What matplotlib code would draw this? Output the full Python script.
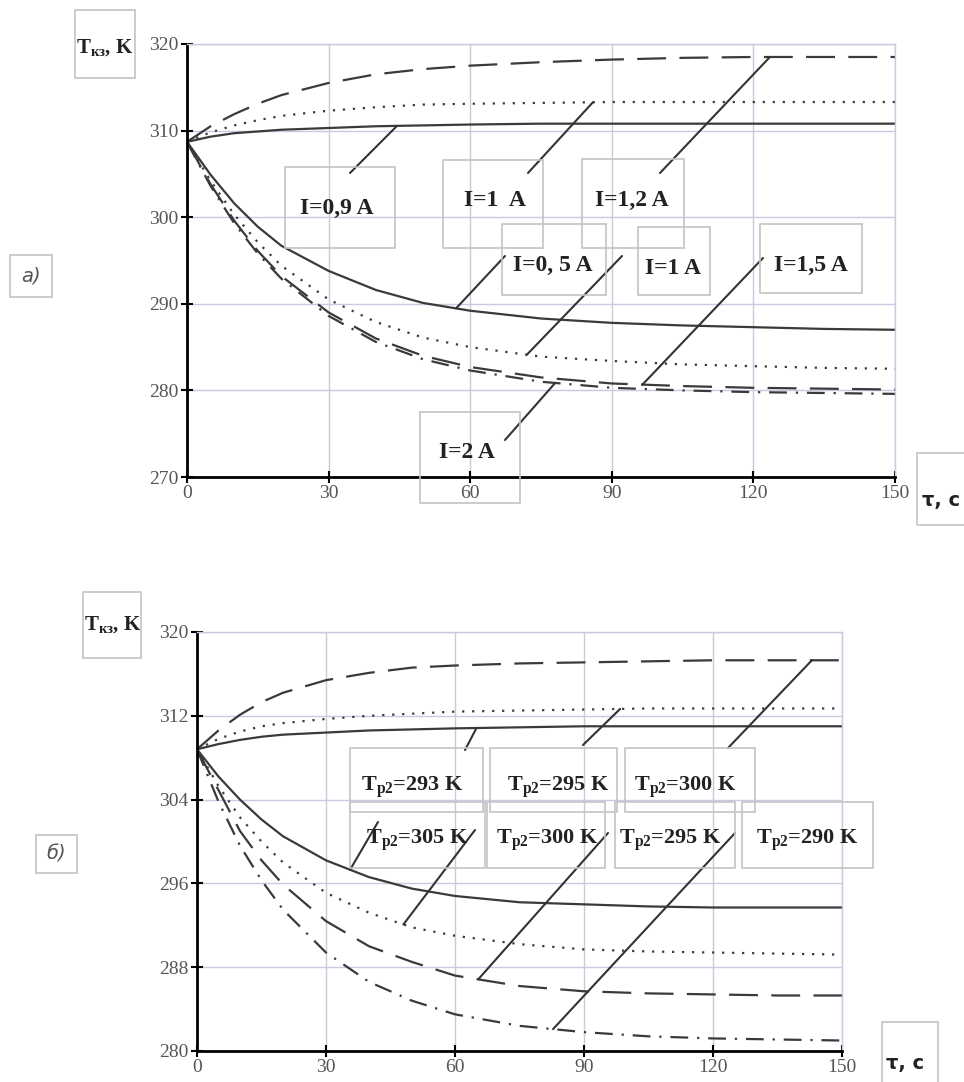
import numpy as np
import matplotlib
matplotlib.use("Agg")
import matplotlib.pyplot as plt
from matplotlib.patches import Rectangle

W, H = 964, 1082

plt.rcParams["font.family"] = ["Liberation Serif", "DejaVu Serif"]
plt.rcParams["mathtext.fontset"] = "custom"
plt.rcParams["mathtext.rm"] = "Liberation Serif:bold"
plt.rcParams["mathtext.it"] = "Liberation Serif:bold:italic"
plt.rcParams["mathtext.bf"] = "Liberation Serif:bold"

# time, s
tau = [0, 5, 10, 15, 20, 30, 40, 50, 60, 75, 90, 105, 120, 135, 150]

# panel a) upper branch (hot side) for I = 0.9, 1, 1.2 A
a_hot_09 = [308.7, 309.3, 309.7, 309.9, 310.1, 310.3, 310.5, 310.6, 310.7, 310.8, 310.8, 310.8, 310.8, 310.8, 310.8]
a_hot_10 = [308.7, 309.8, 310.6, 311.2, 311.7, 312.3, 312.7, 313.0, 313.1, 313.2, 313.3, 313.3, 313.3, 313.3, 313.3]
a_hot_12 = [308.7, 310.5, 311.9, 313.1, 314.1, 315.5, 316.5, 317.1, 317.5, 317.9, 318.2, 318.4, 318.5, 318.5, 318.5]
# panel a) lower branch (cold side) for I = 0.5, 1, 1.5, 2 A
a_cold_05 = [308.7, 304.9, 301.6, 298.9, 296.7, 293.8, 291.6, 290.1, 289.2, 288.3, 287.8, 287.5, 287.3, 287.1, 287.0]
a_cold_10 = [308.7, 304.2, 300.3, 297.1, 294.4, 290.5, 287.9, 286.1, 285.0, 283.9, 283.4, 283.0, 282.8, 282.6, 282.5]
a_cold_15 = [308.7, 303.8, 299.6, 296.1, 293.2, 289.0, 286.0, 284.0, 282.7, 281.5, 280.8, 280.5, 280.3, 280.2, 280.1]
a_cold_20 = [308.7, 303.6, 299.3, 295.8, 292.9, 288.6, 285.6, 283.6, 282.3, 281.0, 280.3, 280.0, 279.8, 279.7, 279.6]

# panel б) upper branch for Tp2 = 293, 295, 300 K
b_hot_293 = [308.8, 309.3, 309.7, 310.0, 310.2, 310.4, 310.6, 310.7, 310.8, 310.9, 311.0, 311.0, 311.0, 311.0, 311.0]
b_hot_295 = [308.8, 309.8, 310.5, 311.0, 311.3, 311.7, 312.0, 312.2, 312.4, 312.5, 312.6, 312.7, 312.7, 312.7, 312.7]
b_hot_300 = [308.8, 310.6, 312.1, 313.3, 314.2, 315.4, 316.1, 316.6, 316.8, 317.0, 317.1, 317.2, 317.3, 317.3, 317.3]
# panel б) lower branch for Tp2 = 305, 300, 295, 290 K
b_cold_305 = [308.8, 306.2, 304.0, 302.1, 300.5, 298.2, 296.6, 295.5, 294.8, 294.2, 294.0, 293.8, 293.7, 293.7, 293.7]
b_cold_300 = [308.8, 305.3, 302.3, 300.0, 298.0, 295.1, 293.2, 291.8, 291.0, 290.2, 289.7, 289.5, 289.4, 289.3, 289.2]
b_cold_295 = [308.8, 304.9, 301.0, 298.2, 295.9, 292.4, 290.0, 288.5, 287.2, 286.2, 285.7, 285.5, 285.4, 285.3, 285.3]
b_cold_290 = [308.8, 303.8, 299.6, 296.3, 293.5, 289.4, 286.6, 284.8, 283.5, 282.4, 281.8, 281.4, 281.2, 281.1, 281.0]

a_labels = ["I=0,9 A", "I=1  A", "I=1,2 A", "I=0, 5 A", "I=1 A", "I=1,5 A", "I=2 A"]
b_labels = [r"T$_{\mathrm{р2}}$=293 K", r"T$_{\mathrm{р2}}$=295 K", r"T$_{\mathrm{р2}}$=300 K",
            r"T$_{\mathrm{р2}}$=305 K", r"T$_{\mathrm{р2}}$=300 K", r"T$_{\mathrm{р2}}$=295 K",
            r"T$_{\mathrm{р2}}$=290 K"]

a_yticks = [270, 280, 290, 300, 310, 320]
b_yticks = [280, 288, 296, 304, 312, 320]
xticks = [0, 30, 60, 90, 120, 150]

GRID = "#c9c9df"
LINE = "#3a3a3a"
BOXC = "#c4c4c4"
SOLID = "-"
DOT = (0, (1, 3.5))
DASH = (0, (13, 6))
DASHDOT = (0, (8, 4, 1, 4))


def fxy(x, y):
    return x / W, 1 - y / H


def setup(ax, yticks):
    ax.set_xlim(0, 150)
    ax.set_ylim(yticks[0], yticks[-1])
    ax.set_xticks(xticks)
    ax.set_yticks(yticks)
    ax.grid(True, color=GRID, lw=1)
    ax.set_axisbelow(True)
    for s in ["top", "right"]:
        ax.spines[s].set_color(GRID)
        ax.spines[s].set_linewidth(1)
    for s in ["left", "bottom"]:
        ax.spines[s].set_color("black")
        ax.spines[s].set_linewidth(2)
    ax.tick_params(direction="inout", length=8, width=1.5, labelsize=14,
                   labelcolor="#555555", pad=2)


def box(fig, x0, y0, x1, y1):
    fig.add_artist(Rectangle(fxy(x0, y1), (x1 - x0) / W, (y1 - y0) / H,
                             transform=fig.transFigure, fill=False,
                             ec=BOXC, lw=1.2))


def label(fig, text, cx, cy, rect, size):
    box(fig, *rect)
    fig.text(*fxy(cx, cy), text, ha="center", va="center", fontsize=size,
             fontweight="bold", color="#222222")


def leader(ax, sx, sy, series, t):
    ax.annotate("", xy=(t, np.interp(t, tau, series)), xycoords="data",
                xytext=fxy(sx, sy), textcoords="figure fraction",
                arrowprops=dict(arrowstyle="-", color="#333333", lw=1.5,
                                shrinkA=0, shrinkB=0))


fig = plt.figure(figsize=(W / 100, H / 100), dpi=100)

# ---------- panel a)
ax1 = fig.add_axes([187 / W, 1 - 477 / H, (895 - 187) / W, (477 - 44) / H])
setup(ax1, a_yticks)
for s, ls in [(a_hot_09, SOLID), (a_hot_10, DOT), (a_hot_12, DASH),
              (a_cold_05, SOLID), (a_cold_10, DOT), (a_cold_15, DASH),
              (a_cold_20, DASHDOT)]:
    ax1.plot(tau, s, color=LINE, lw=1.6, linestyle=ls)

label(fig, a_labels[0], 337, 208, (285, 167, 395, 248), 17)
label(fig, a_labels[1], 495, 200, (443, 160, 543, 248), 17)
label(fig, a_labels[2], 632, 200, (582, 159, 684, 248), 17)
label(fig, a_labels[3], 553, 265, (502, 224, 606, 295), 17)
label(fig, a_labels[4], 673, 268, (638, 227, 710, 295), 17)
label(fig, a_labels[5], 811, 265, (760, 224, 862, 293), 17)
label(fig, a_labels[6], 467, 452, (420, 412, 520, 503), 17)

leader(ax1, 350, 173, a_hot_09, 44.5)
leader(ax1, 528, 173, a_hot_10, 86)
leader(ax1, 660, 173, a_hot_12, 123.5)
leader(ax1, 505, 256, a_cold_05, 57)
leader(ax1, 622, 256, a_cold_10, 72)
leader(ax1, 763, 258, a_cold_15, 96.5)
leader(ax1, 505, 440, a_cold_20, 78)

label(fig, r"T$_{\mathrm{кз}}$, K", 105, 48, (75, 10, 135, 78), 15)
box(fig, 917, 453, 975, 525)
fig.text(*fxy(941, 500), "τ, c", ha="center", va="center", fontsize=14,
         fontweight="bold", family="DejaVu Sans", color="#222222")
box(fig, 10, 255, 52, 297)
fig.text(*fxy(31, 276), "a)", ha="center", va="center", fontsize=14,
         style="italic", family="DejaVu Sans", color="#555555")

# ---------- panel б)
ax2 = fig.add_axes([197 / W, 1 - 1051 / H, (842 - 197) / W, (1051 - 632) / H])
setup(ax2, b_yticks)
for s, ls in [(b_hot_293, SOLID), (b_hot_295, DOT), (b_hot_300, DASH),
              (b_cold_305, SOLID), (b_cold_300, DOT), (b_cold_295, DASH),
              (b_cold_290, DASHDOT)]:
    ax2.plot(tau, s, color=LINE, lw=1.6, linestyle=ls)

label(fig, b_labels[0], 412, 787, (350, 748, 483, 812), 16)
label(fig, b_labels[1], 558, 787, (490, 748, 617, 812), 16)
label(fig, b_labels[2], 685, 787, (625, 748, 755, 812), 16)
label(fig, b_labels[3], 417, 840, (350, 802, 485, 868), 16)
label(fig, b_labels[4], 547, 840, (487, 802, 605, 868), 16)
label(fig, b_labels[5], 670, 840, (615, 802, 735, 868), 16)
label(fig, b_labels[6], 807, 840, (742, 802, 873, 868), 16)

leader(ax2, 465, 750, b_hot_293, 65)
leader(ax2, 583, 745, b_hot_295, 98.4)
leader(ax2, 728, 748, b_hot_300, 143)
leader(ax2, 378, 822, b_cold_305, 35.6)
leader(ax2, 475, 830, b_cold_300, 48)
leader(ax2, 608, 833, b_cold_295, 65.4)
leader(ax2, 735, 833, b_cold_290, 82.8)

label(fig, r"T$_{\mathrm{кз}}$, K", 113, 625, (83, 592, 141, 658), 15)
box(fig, 882, 1022, 938, 1090)
fig.text(*fxy(905, 1064), "τ, c", ha="center", va="center", fontsize=14,
         fontweight="bold", family="DejaVu Sans", color="#222222")
box(fig, 36, 835, 77, 873)
fig.text(*fxy(56, 854), "б)", ha="center", va="center", fontsize=14,
         style="italic", family="DejaVu Sans", color="#555555")

fig.savefig("out.png", dpi=100)
